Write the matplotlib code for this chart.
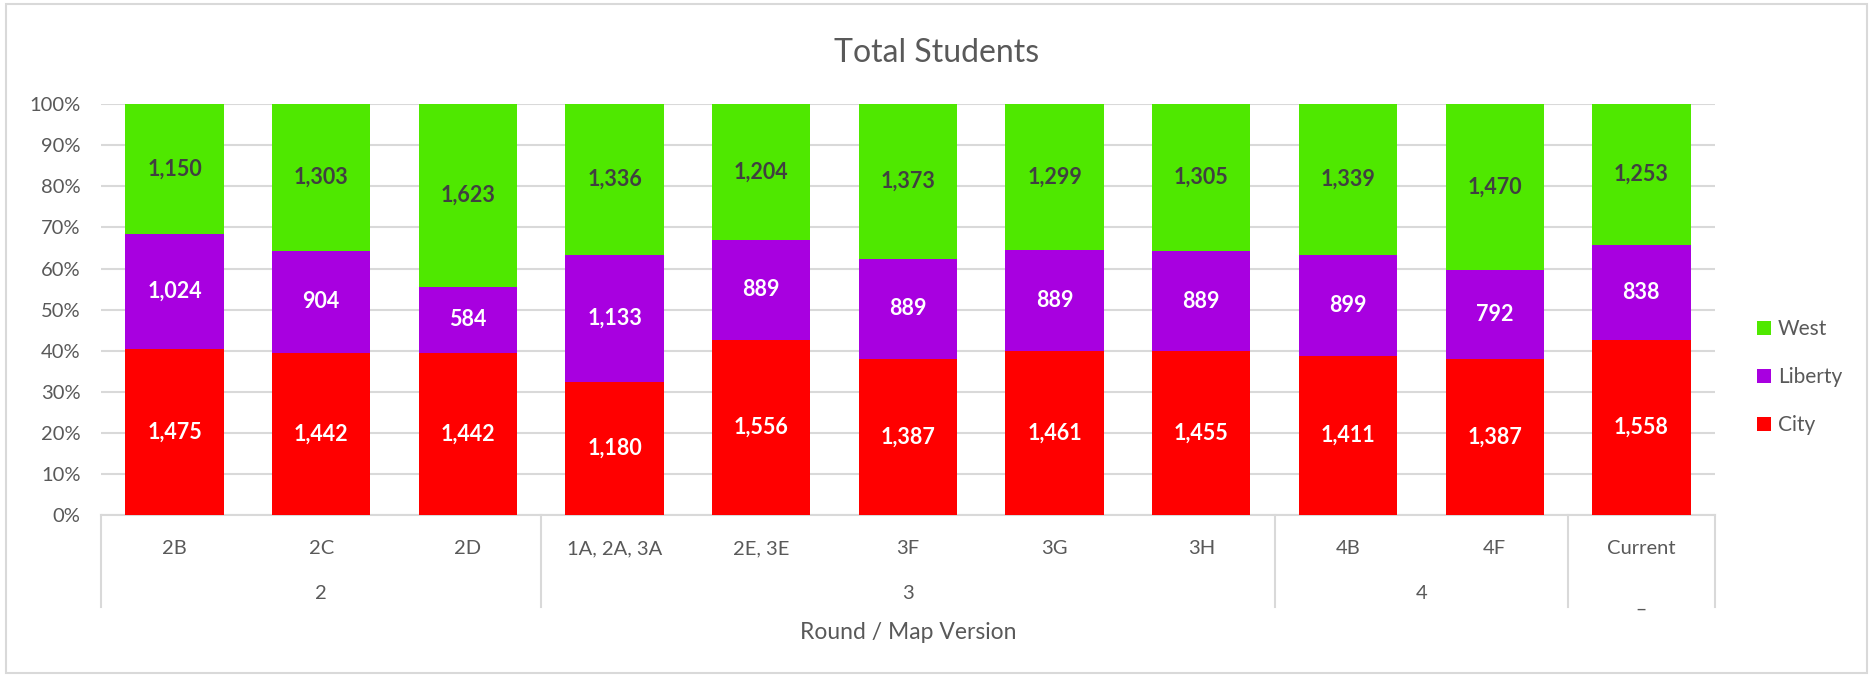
import matplotlib.pyplot as plt
import matplotlib.transforms as mtransforms
from matplotlib.patches import Rectangle
import numpy as np

#====================================
# Data

versions = ["2B", "2C", "2D", "1A, 2A, 3A", "2E, 3E", "3F", "3G", "3H", "4B", "4F", "Current"]
rounds = ["2", "3", "4", "_"]
round_sizes = [3, 5, 2, 1]

city = [1475, 1442, 1442, 1180, 1556, 1387, 1461, 1455, 1411, 1387, 1558]
liberty = [1024, 904, 584, 1133, 889, 889, 889, 889, 899, 792, 838]
west = [1150, 1303, 1623, 1336, 1204, 1373, 1299, 1305, 1339, 1470, 1253]

#====================================
# Style

plt.rcParams['font.family'] = ['Lato', 'DejaVu Sans']
grid_col = "#D9D9D9"
text_col = "#595959"
colors = {"City": "#FF0000", "Liberty": "#A800E0", "West": "#4FE800"}

#====================================
# Plot

fig = plt.figure(figsize=(18.74, 6.76), dpi=100)
ax = fig.add_axes([0.054, 0.238, 0.861, 0.608])

x = np.arange(len(versions))
total = np.array(city) + np.array(liberty) + np.array(west)
series = [("City", city), ("Liberty", liberty), ("West", west)]

bottom = np.zeros(len(versions))
handles = []
for name, vals in series:
    pct = np.array(vals) / total * 100
    bars = ax.bar(x, pct, 0.67, bottom=bottom, color=colors[name], label=name, zorder=3)
    lab_col = "#404040" if name == "West" else "white"
    ax.bar_label(bars, labels=[f"{v:,}" for v in vals], label_type="center",
                 color=lab_col, fontsize=15.5, fontweight="bold")
    bottom += pct
    handles.append(bars)

ax.set_xlim(-0.5, len(versions) - 0.5)
ax.set_ylim(0, 100)
ax.set_yticks(np.arange(0, 101, 10))
ax.set_yticklabels([f"{t}%" for t in range(0, 101, 10)], fontsize=14.5, color=text_col)
ax.yaxis.grid(True, color=grid_col, linewidth=1.5, zorder=0)
ax.tick_params(axis="y", length=0, pad=15)

ax.set_xticks(x)
ax.set_xticklabels(versions, fontsize=14.5, color=text_col)
ax.tick_params(axis="x", length=0, pad=18)

for s in ["top", "right", "left"]:
    ax.spines[s].set_visible(False)
ax.spines["bottom"].set_color(grid_col)
ax.spines["bottom"].set_linewidth(1.5)

# group separators and round labels
trans = mtransforms.blended_transform_factory(ax.transData, ax.transAxes)
edges = np.concatenate([[0], np.cumsum(round_sizes)]) - 0.5
for e in edges:
    ax.plot([e, e], [0, -0.224], transform=trans, color=grid_col, lw=1.5, clip_on=False)
for i, r in enumerate(rounds):
    mid = (edges[i] + edges[i + 1]) / 2
    ax.text(mid, -0.19 if r != "_" else -0.21, r, transform=trans, ha="center", va="center",
            fontsize=14.5, color=text_col)

ax.text(0.5, -0.285, "Round / Map Version", transform=ax.transAxes, ha="center", va="center",
        fontsize=16.5, color=text_col)

fig.text(0.5, 0.922, "Total Students", ha="center", va="center", fontsize=23, color=text_col)

leg = fig.legend(handles[::-1], ["West", "Liberty", "City"], loc="center left",
                 bbox_to_anchor=(0.9376, 0.442), frameon=False, fontsize=15,
                 borderaxespad=0, borderpad=0,
                 handlelength=0.67, handleheight=0.67, handletextpad=0.34, labelspacing=1.33)
for t in leg.get_texts():
    t.set_color(text_col)

# outer chart border
fig.patches.append(Rectangle((0.003, 0.004), 0.993, 0.99, transform=fig.transFigure,
                             fill=False, edgecolor=grid_col, linewidth=1.5))

fig.savefig("out.png", dpi=100)
